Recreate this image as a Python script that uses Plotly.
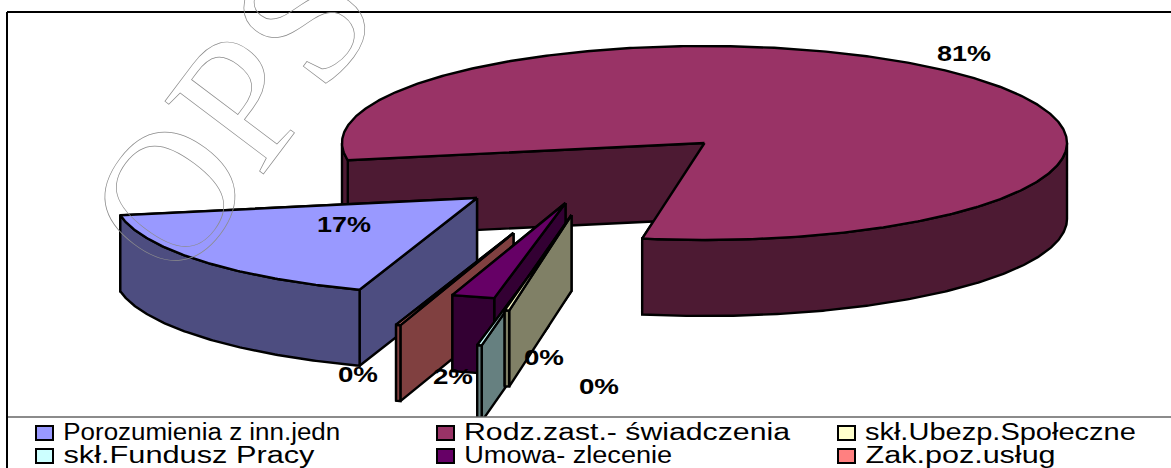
import json
import numpy as np
import plotly.graph_objects as go

# ---- data (legend order, clockwise round the pie) ----
categories = ["Porozumienia z inn.jedn", "Rodz.zast.- świadczenia", "skł.Ubezp.Społeczne",
              "skł.Fundusz Pracy", "Umowa- zlecenie", "Zak.poz.usług"]
values = [16.9, 80.6, 0.2, 0.2, 1.9, 0.2]

# ---- style ----
top_colors = ["#9999FF", "#993366", "#FFFFCC", "#CCFFFF", "#660066", "#FF8080"]
wall_colors = ["#4D4D80", "#4D1A33", "#808066", "#668080", "#330033", "#804040"]
CX, CY, RX, RY, DEPTH = 704.5, 143.0, 362.5, 97.0, 76.0
START_DEG = 108.9
explode_dx = [-227.5, 0, -133, -156, -139, -191]
explode_dy = [55, 0, 72, 107, 60, 90]
draw_order = [1, 0, 5, 4, 3, 2]
label_x = [344, 964, 599, 544, 453, 358]
label_y = [224, 53, 386, 357, 376, 374]
label_w = 54
label_w_small = 40
legend_col_x = [36, 437, 838]
legend_text_dx = 27
legend_row_y = [432, 455]
legend_text_w = [277, 326, 271, 251, 208, 190]
LEGEND_TOP = 417
FONT = "Liberation Sans"

fig = go.Figure()


def poly(xs, ys, color, width=2.4):
    fig.add_trace(go.Scatter(x=xs, y=ys, mode="lines", fill="toself", fillcolor=color,
                             line=dict(color="black", width=width), hoverinfo="skip",
                             showlegend=False))


def arc(ax, ay, t0, t1, dz=0.0):
    n = max(2, int(abs(t1 - t0) * 2) + 2)
    t = np.radians(np.linspace(t0, t1, n))
    return ax + RX * np.cos(t), ay + RY * np.sin(t) + dz


# slice angles come straight from the values
spans = np.array(values) / sum(values) * 360
starts = START_DEG + np.concatenate([[0], np.cumsum(spans)[:-1]])

for i in draw_order:
    ax, ay = CX + explode_dx[i], CY + explode_dy[i]
    t0, t1 = starts[i], starts[i] + spans[i]
    # radial faces
    for t in (t1, t0):
        ex, ey = arc(ax, ay, t, t)
        poly([ax, ex[0], ex[0], ax, ax], [ay, ey[0], ey[0] + DEPTH, ay + DEPTH, ay], wall_colors[i])
    # outer wall, only the front half of the ellipse shows
    for k in (0, 360):
        a, b = max(t0, k), min(t1, k + 180)
        if b > a:
            xa, ya = arc(ax, ay, a, b)
            xb, yb = arc(ax, ay, b, a, DEPTH)
            poly(np.r_[xa, xb, xa[0]], np.r_[ya, yb, ya[0]], wall_colors[i])
    # top
    xa, ya = arc(ax, ay, t0, t1)
    poly(np.r_[ax, xa, ax], np.r_[ay, ya, ay], top_colors[i])

shapes = [
    dict(type="rect", x0=7, x1=1172, y0=LEGEND_TOP, y1=469, fillcolor="white",
         line=dict(color="#666666", width=1.5)),
    dict(type="line", x0=7, x1=1172, y0=12, y1=12, line=dict(color="black", width=2)),
    dict(type="line", x0=7, x1=7, y0=12, y1=469, line=dict(color="black", width=2)),
]
annotations = []
stretch = {}
for i, name in enumerate(categories):
    col, row = i % 3, i // 3
    yc = legend_row_y[row]
    shapes.append(dict(type="rect", x0=legend_col_x[col], x1=legend_col_x[col] + 17,
                       y0=yc - 6, y1=yc + 8, fillcolor=top_colors[i],
                       line=dict(color="black", width=2)))
    annotations.append(dict(x=legend_col_x[col] + legend_text_dx + legend_text_w[i] / 2, y=yc,
                            text=name, showarrow=False,
                            xanchor="center", yanchor="middle", xref="x", yref="y",
                            font=dict(family=FONT, size=23, color="black")))
    stretch[name] = legend_text_w[i]
for i, v in enumerate(values):
    annotations.append(dict(x=label_x[i], y=label_y[i], text=f"{round(v)}%", showarrow=False,
                            xref="x", yref="y",
                            font=dict(family=FONT, size=22, color="black", weight="bold")))
    stretch[f"{round(v)}%"] = label_w if round(v) >= 10 else label_w_small
# watermark
annotations.append(dict(x=230, y=112, text="OPS", showarrow=False, textangle=-53, xref="x", yref="y",
                        font=dict(family="Liberation Serif", size=187, color="rgba(0,0,0,0)")))

fig.update_layout(
    width=1171, height=468, margin=dict(l=0, r=0, t=0, b=0),
    paper_bgcolor="white", plot_bgcolor="white", showlegend=False,
    xaxis=dict(range=[0, 1171], visible=False, fixedrange=True),
    yaxis=dict(range=[468, 0], visible=False, fixedrange=True),
    shapes=shapes, annotations=annotations,
)

post = """
document.body.style.margin = '0';
var widths = %s;
document.querySelectorAll('.annotation-text').forEach(function (t) {
  var s = t.textContent;
  if (s === 'OPS') {
    t.style.fill = 'none';
    t.style.stroke = '#8c8c8c';
    t.style.strokeWidth = '0.7px';
  } else if (widths[s]) {
    t.setAttribute('textLength', widths[s]);
    t.setAttribute('lengthAdjust', 'spacingAndGlyphs');
  }
});
""" % json.dumps(stretch)
fig.write_html("out.html", post_script=post, config={"displayModeBar": False})
